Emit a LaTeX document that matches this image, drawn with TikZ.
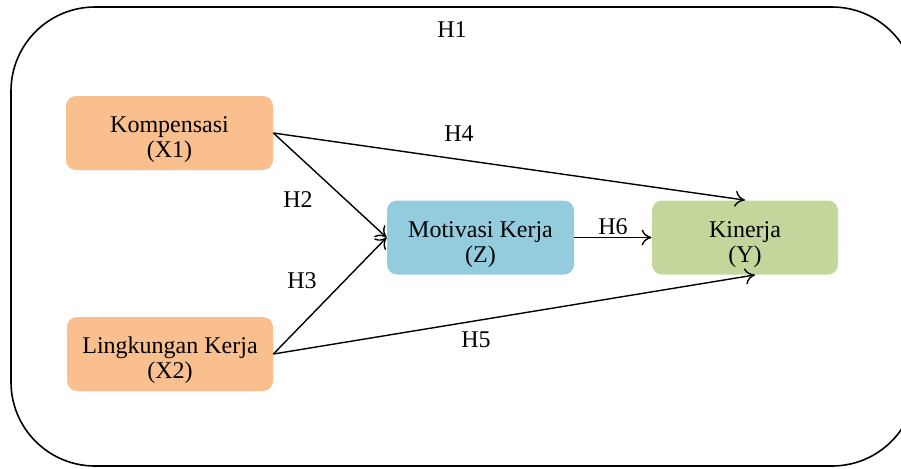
\documentclass[tikz,border=0pt]{standalone}
\usepackage{fontspec}
\setmainfont{Liberation Serif}
\usepackage{tikz}
\usetikzlibrary{arrows.meta}

\definecolor{orangebox}{HTML}{F9BF8F}
\definecolor{bluebox}{HTML}{93CDDD}
\definecolor{greenbox}{HTML}{C3D69B}

\newcommand{\vartext}[2]{\rule{0pt}{15pt}#1\\#2}

\tikzset{
  varbox/.style={rounded corners=5pt, align=center, inner sep=2pt,
    minimum height=37pt, font=\fontsize{12}{12.5}\selectfont},
  hlabel/.style={font=\fontsize{12}{14}\selectfont},
  link/.style={-{To[length=5pt,width=8pt]}, line width=0.7pt}
}

\begin{document}
\begin{tikzpicture}[x=0.5pt, y=-0.5pt]
        \useasboundingbox (0,0) rectangle (901,468);
        \clip (0,0) rectangle (901,468);
        \draw[line width=0.8pt, rounded corners=42pt] (11,7) rectangle (916,466);
        \node[varbox, fill=orangebox, minimum width=103.5pt] (komp) at (169.5,133) {\vartext{Kompensasi}{(X1)}};
        \node[varbox, fill=orangebox, minimum width=103pt] (ling) at (170,354) {\vartext{Lingkungan Kerja}{(X2)}};
        \node[varbox, fill=bluebox, minimum width=93.5pt] (motiv) at (480.5,237.5) {\vartext{Motivasi Kerja}{(Z)}};
        \node[varbox, fill=greenbox, minimum width=93pt] (kin) at (745,237.5) {\vartext{Kinerja}{(Y)}};
        \draw[link] (komp.east) -- (motiv.west);
        \draw[link] (ling.east) -- (motiv.west);
        \draw[link] (komp.east) -- (kin.north);
        \draw[link] (ling.east) -- (kin.-75);
        \draw[link] (motiv.east) -- (kin.west);
        \node[hlabel] (h1) at (452,30) {H1};
        \node[hlabel] (h2) at (298,200) {H2};
        \node[hlabel] (h3) at (302,281) {H3};
        \node[hlabel] (h4) at (459,134) {H4};
        \node[hlabel] (h5) at (476,340) {H5};
        \node[hlabel] (h6) at (613,227) {H6};
        \end{tikzpicture}
\end{document}
